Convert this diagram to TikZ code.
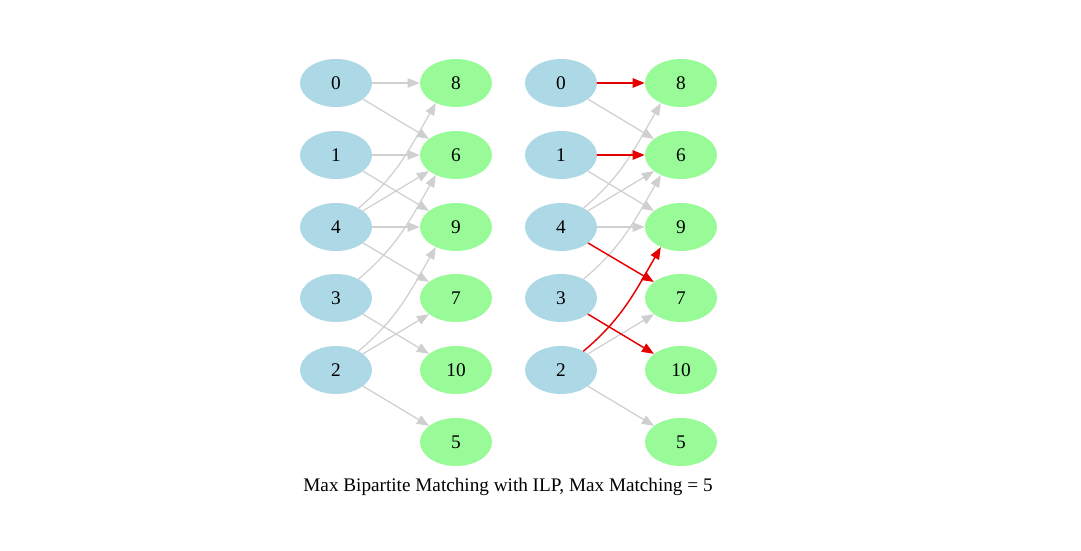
\documentclass[tikz,border=0pt]{standalone}
\usepackage{fontspec}
\setmainfont{Liberation Serif}
\usetikzlibrary{arrows.meta,shapes.geometric}
\definecolor{leftblue}{HTML}{ADD8E6}
\definecolor{rightgreen}{HTML}{98FB98}
\definecolor{edgegray}{HTML}{CFCFCF}

\begin{document}
\begin{tikzpicture}[x=0.75pt,y=0.75pt,line cap=round,line join=round,>={Triangle[length=9pt,width=7pt]},
    lnode/.style={ellipse,fill=leftblue,minimum width=54pt,minimum height=36pt,inner sep=0pt,font=\fontsize{14.5}{16}\selectfont},
    rnode/.style={lnode,fill=rightgreen},
    plain/.style={->,draw=edgegray,line width=0.9pt},
    match/.style={->,draw=red!90!black,line width=1.1pt}]
                \fill[white] (0,0) rectangle (1081,550);
                \useasboundingbox (0,0) rectangle (1081,550);
                % left picture: all edges
                \node[lnode] (a0) at (336,467) {0};
                \node[lnode] (a1) at (336,395) {1};
                \node[lnode] (a4) at (336,323) {4};
                \node[lnode] (a3) at (336,252) {3};
                \node[lnode] (a2) at (336,180) {2};
                \node[rnode] (a8) at (456,467) {8};
                \node[rnode] (a6) at (456,395) {6};
                \node[rnode] (a9) at (456,323) {9};
                \node[rnode] (a7) at (456,252) {7};
                \node[rnode] (a10) at (456,180) {10};
                \node[rnode] (a5) at (456,108) {5};
                \draw[plain] (a0) -- (a8);
                \draw[plain] (a0) -- (a6);
                \draw[plain] (a1) -- (a6);
                \draw[plain] (a1) -- (a9);
                \draw[plain] (a4.40) to[out=40,in=240] (a8.225);
                \draw[plain] (a4) -- (a6);
                \draw[plain] (a4) -- (a9);
                \draw[plain] (a4) -- (a7);
                \draw[plain] (a3.40) to[out=40,in=240] (a6.225);
                \draw[plain] (a3) -- (a10);
                \draw[plain] (a2.40) to[out=40,in=240] (a9.225);
                \draw[plain] (a2) -- (a7);
                \draw[plain] (a2) -- (a5);
                % right picture: matching in red
                \node[lnode] (b0) at (561,467) {0};
                \node[lnode] (b1) at (561,395) {1};
                \node[lnode] (b4) at (561,323) {4};
                \node[lnode] (b3) at (561,252) {3};
                \node[lnode] (b2) at (561,180) {2};
                \node[rnode] (b8) at (681,467) {8};
                \node[rnode] (b6) at (681,395) {6};
                \node[rnode] (b9) at (681,323) {9};
                \node[rnode] (b7) at (681,252) {7};
                \node[rnode] (b10) at (681,180) {10};
                \node[rnode] (b5) at (681,108) {5};
                \draw[plain] (b0) -- (b6);
                \draw[plain] (b1) -- (b9);
                \draw[plain] (b4.40) to[out=40,in=240] (b8.225);
                \draw[plain] (b4) -- (b6);
                \draw[plain] (b4) -- (b9);
                \draw[plain] (b3.40) to[out=40,in=240] (b6.225);
                \draw[plain] (b2) -- (b7);
                \draw[plain] (b2) -- (b5);
                \draw[match] (b0) -- (b8);
                \draw[match] (b1) -- (b6);
                \draw[match] (b4) -- (b7);
                \draw[match] (b3) -- (b10);
                \draw[match] (b2.40) to[out=40,in=240] (b9.225);
                \node[font=\fontsize{14.4}{16}\selectfont] (caption) at (508,63) {Max Bipartite Matching with ILP, Max Matching = 5};
\end{tikzpicture}
\end{document}
